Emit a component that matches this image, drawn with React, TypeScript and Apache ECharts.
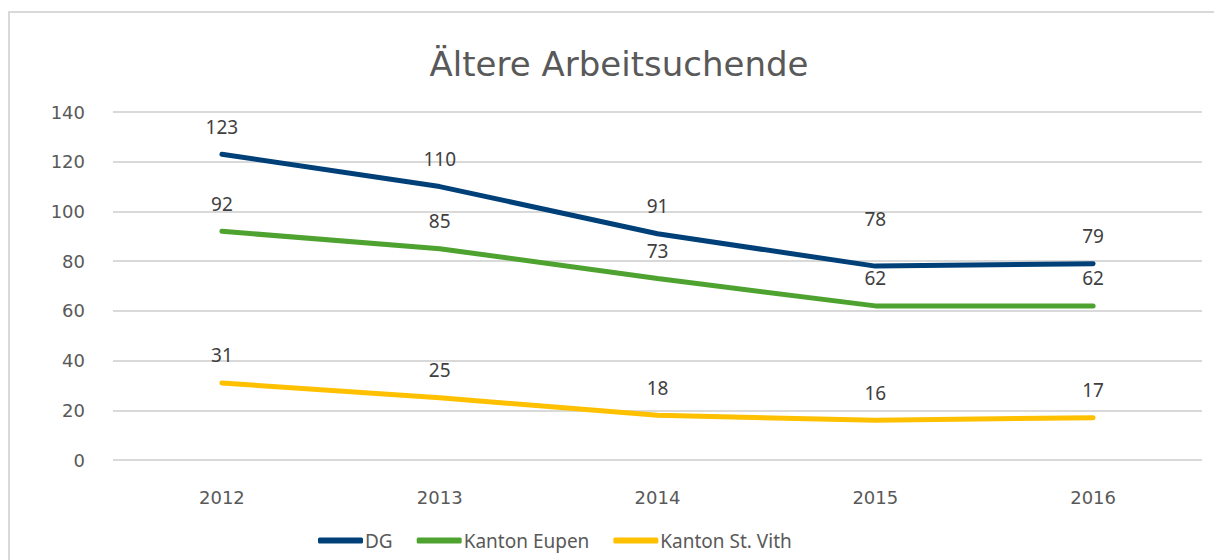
import React, { useEffect, useRef } from "react";
import * as echarts from "echarts";

const years = ["2012", "2013", "2014", "2015", "2016"];
const dg = [123, 110, 91, 78, 79];
const eupen = [92, 85, 73, 62, 62];
const stvith = [31, 25, 18, 16, 17];
const seriesNames = ["DG", "Kanton Eupen", "Kanton St. Vith"];
const colors = ["#004078", "#4EA22F", "#FFC000"];

const FONT = "'Noto Sans', sans-serif";
const WIDE = "'DejaVu Sans', sans-serif";

export default function App() {
  const ref = useRef<HTMLDivElement>(null);
  useEffect(() => {
    if (!ref.current) return;
    const chart = echarts.init(ref.current, null, { renderer: "svg" });
    const mk = (name: string, data: any[], color: string) => ({
      name,
      type: "line",
      data,
      symbol: "circle",
      symbolSize: 0.1,
      showSymbol: true,
      lineStyle: { width: 5, color, cap: "round" },
      itemStyle: { color },
      label: {
        show: true,
        position: "top",
        distance: 18,
        fontSize: 19,
        color: "#404040",
        fontFamily: FONT,
      },
    });
    const dgData = dg.map((v, i) => (i === 3 ? { value: v, label: { offset: [0, -20] } } : v));
    chart.setOption({
      animation: false,
      color: colors,
      title: {
        text: "Ältere Arbeitsuchende",
        left: 604,
        textAlign: "center",
        top: 29,
        textStyle: { fontSize: 34, fontWeight: "normal", color: "#595959", fontFamily: WIDE },
      },
      grid: { left: 103, top: 99, width: 1089, height: 348, containLabel: false },
      xAxis: {
        type: "category",
        data: years,
        boundaryGap: true,
        axisLine: { show: false },
        axisTick: { show: false },
        axisLabel: { margin: 28, fontSize: 18, color: "#595959", fontFamily: WIDE },
      },
      yAxis: {
        type: "value",
        min: 0,
        max: 140,
        interval: 20,
        axisLine: { show: false },
        axisTick: { show: false },
        axisLabel: { margin: 28, fontSize: 18, color: "#595959", fontFamily: WIDE },
        splitLine: { lineStyle: { color: "#D9D9D9", width: 2 } },
      },
      legend: {
        data: seriesNames,
        left: 303,
        top: 513,
        itemWidth: 45,
        itemHeight: 6,
        itemGap: 24,
        icon: "roundRect",
        textStyle: { fontSize: 19, color: "#595959", fontFamily: FONT, padding: [0, 0, 0, -3] },
      },
      series: [
        mk(seriesNames[0], dgData, colors[0]),
        mk(seriesNames[1], eupen, colors[1]),
        mk(seriesNames[2], stvith, colors[2]),
      ],
    });
    return () => chart.dispose();
  }, []);
  return (
    <div style={{ position: "fixed", left: 0, top: 0, width: 1214, height: 560, overflow: "hidden", background: "#fff" }}>
      <div
        style={{
          position: "absolute",
          left: 8,
          top: 11,
          border: "2px solid #D9D9D9",
          width: 1220,
          height: 560,
        }}
      >
        <div ref={ref} style={{ width: 1220, height: 560 }} />
      </div>
    </div>
  );
}
